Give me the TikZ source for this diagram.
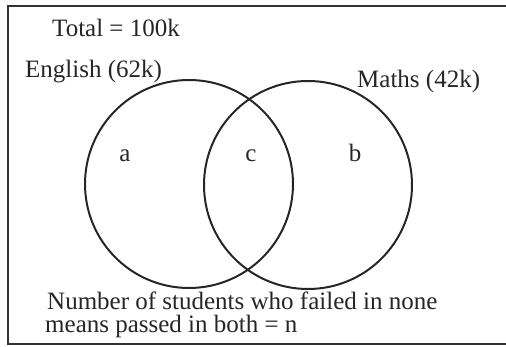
\documentclass[tikz,border=0pt]{standalone}
\usepackage{fontspec}
\setmainfont{Liberation Serif}
\begin{document}
\begin{tikzpicture}[x=1pt,y=-1pt,
  lbl/.style={inner sep=0pt,font=\fontsize{25}{27}\selectfont,text=black!85},
  setcirc/.style={circle,draw=black!85,line width=2pt,minimum size=208pt,inner sep=0pt},
  frameline/.style={draw=black!80,line width=1.6pt}]
\useasboundingbox (0,0) rectangle (506,347);
\coordinate (fr1) at (520,6);
\coordinate (fr2) at (8,6);
\coordinate (fr3) at (8,344);
\coordinate (fr4) at (520,344);
\draw[frameline] (fr1) -- (fr2) -- (fr3) -- (fr4);
\node[setcirc] (eng) at (189,184) {};
\node[setcirc] (mat) at (308,185) {};
\node[lbl,anchor=base west] (total) at (52,36.5) {Total = 100k};
\node[lbl,anchor=base west] (englbl) at (25,78) {English (62k)};
\node[lbl,anchor=base west] (matlbl) at (357,88) {Maths (42k)};
\node[lbl,anchor=base] (a) at (125,162) {a};
\node[lbl,anchor=base] (c) at (251,162) {c};
\node[lbl,anchor=base] (b) at (355,162) {b};
\node[lbl,anchor=base west] (line1) at (47,310) {Number of students who failed in none};
\node[lbl,anchor=base west] (line2) at (45,333) {means passed in both = n};
\end{tikzpicture}
\end{document}
